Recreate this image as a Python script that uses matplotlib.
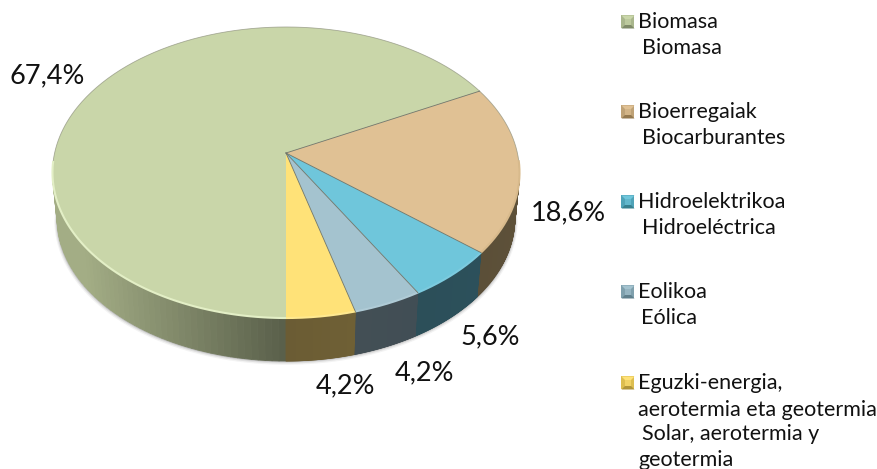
import numpy as np
import matplotlib
matplotlib.use('Agg')
import matplotlib.pyplot as plt
from matplotlib.collections import PolyCollection
from matplotlib.colors import to_rgb

plt.rcParams['font.family'] = ['Lato', 'DejaVu Sans']

# Data
names_eu = ['Biomasa', 'Bioerregaiak', 'Hidroelektrikoa', 'Eolikoa', 'Eguzki-energia,']
names_es = ['Biomasa', 'Biocarburantes', 'Hidroeléctrica', 'Eólica', 'Solar, aerotermia y']
values = [67.4, 18.6, 5.6, 4.2, 4.2]
top_colors = ['#C9D6A9', '#E0C194', '#6FC6DB', '#A4C3CF', '#FFE278']
rim_colors = ['#E3EFC6', '#D8BA8C', '#7CCBDF', '#AFCBD6', '#FFE98F']
side_left = ['#A3AD85', '#5F523A', '#2C505B', '#414E55', '#6F6035']
side_right = ['#5A604B', '#5B4F38', '#2C4F59', '#434F55', '#6B5C34']
legend_colors = ['#A9B68C', '#BFA276', '#4FA3B8', '#7FA0AD', '#DDBE50']
legend_dark = ['#7F8A68', '#94794F', '#37808F', '#5F7F8C', '#B0953A']

label_pos = [(47, 76), (568, 213), (490, 337), (424, 373), (345, 386)]
legend_y = [22, 112, 202, 292, 383]
second_x = [642, 642, 642, 641, 642]

# Pie geometry in pixels, circle seen with a bit of perspective
cx, cy = 286, 153
a, b, k = 231.4, 142.9, 0.134
depth, shrink = 46.3, 0.98


def project(theta, scale=1.0, dy=0.0):
    u, v = np.cos(theta), np.sin(theta)
    w = 1 + k * v
    return cx + scale * a * u / w, cy + dy - scale * b * v / w


fig = plt.figure(figsize=(8.78, 4.69), dpi=100)
ax = fig.add_axes([0, 0, 1, 1])
ax.set_xlim(0, 878)
ax.set_ylim(469, 0)
ax.axis('off')

# Slice angles, clockwise from straight down
shares = np.array(values) / sum(values) * 2 * np.pi
ends = np.cumsum(shares)
starts = ends - shares
starts = 1.5 * np.pi - starts
ends = 1.5 * np.pi - ends

# Soft shadow under the wall
for off, alpha in [(3.0, 0.07), (2.0, 0.12), (1.0, 0.22)]:
    th = np.linspace(np.pi + 0.14, 2 * np.pi - 0.14, 200)
    x, y = project(th, shrink + off * 0.004, depth + off * 0.6)
    x0, y0 = project(th, 0.98, 0)
    ax.fill(np.r_[x, x0[::-1]], np.r_[y, y0[::-1]], color='#555555', alpha=alpha, lw=0, zorder=1)

# Side wall, only the part facing the viewer
for i in range(len(values)):
    th = np.linspace(starts[i], ends[i], 160)
    th = th[np.sin(th) < -0.1]
    x1, y1 = project(th)
    x2, y2 = project(th, shrink, depth)
    polys = []
    cols = []
    c0, c1 = np.array(to_rgb(side_left[i])), np.array(to_rgb(side_right[i]))
    for j in range(len(th) - 1):
        polys.append([(x1[j], y1[j]), (x1[j + 1], y1[j + 1]), (x2[j + 1], y2[j + 1]), (x2[j], y2[j])])
        t = (j + 0.5) / (len(th) - 1)
        if i == 0:
            # left wall is lit at the far left and gets darker to the front
            t = np.clip((x1[j] - 85) / (286 - 85), 0, 1)
        cols.append(c0 + (c1 - c0) * t)
    ax.add_collection(PolyCollection(polys, facecolors=cols, edgecolors=cols, linewidths=0.6, zorder=2))

# Top face
for i in range(len(values)):
    th = np.linspace(starts[i], ends[i], 300)
    x, y = project(th)
    ax.fill(np.r_[cx, x], np.r_[cy, y], color=top_colors[i], lw=0, zorder=3)
    front = np.sin(th) < -0.05
    back = np.sin(th) > -0.15
    ax.plot(x[back], y[back], color='#8C8F7C', lw=0.6, alpha=0.7, zorder=4)
    ax.plot(x[front], y[front], color=rim_colors[i], lw=1.5, zorder=4, solid_capstyle='butt')

# Thin lines between the slices
for i in range(1, len(values)):
    sx, sy = project(starts[i])
    ax.plot([cx, sx], [cy, sy], color='#6E7468', lw=0.6, zorder=5)

# Data labels
for v, (lx, ly) in zip(values, label_pos):
    ax.text(lx, ly, f'{v:.1f}%'.replace('.', ','), fontsize=19.5, ha='center', va='center',
            color='#111111', zorder=6)

# Legend
for i in range(len(values)):
    y = legend_y[i]
    s, t = 6.5, 3.0
    ax.fill([628 - s, 628 + s, 628 + s, 628 - s], [y - s, y - s, y + s, y + s], color=legend_colors[i], lw=0, zorder=6)
    ax.fill([628 - s, 628 + s, 628 + t, 628 - t], [y + s, y + s, y + t, y + t], color=legend_dark[i], lw=0, zorder=7)
    ax.fill([628 - s, 628 + s, 628 + t, 628 - t], [y - s, y - s, y - t, y - t], color=top_colors[i], lw=0, zorder=7)
    ax.fill([628 - t, 628 + t, 628 + t, 628 - t], [y - t, y - t, y + t, y + t], color=top_colors[i], alpha=0.6, lw=0, zorder=7)
    ax.text(638, y, names_eu[i], fontsize=15.5, va='center', ha='left', color='#111111')
    if i < 4:
        ax.text(second_x[i], y + 26, names_es[i], fontsize=15.5, va='center', ha='left', color='#111111')

ax.text(638, 410, 'aerotermia eta geotermia', fontsize=15.5, va='center', ha='left', color='#111111')
ax.text(642, 434, names_es[4], fontsize=15.5, va='center', ha='left', color='#111111')
ax.text(638, 460, 'geotermia', fontsize=15.5, va='center', ha='left', color='#111111')

fig.savefig('out.png', dpi=100)
